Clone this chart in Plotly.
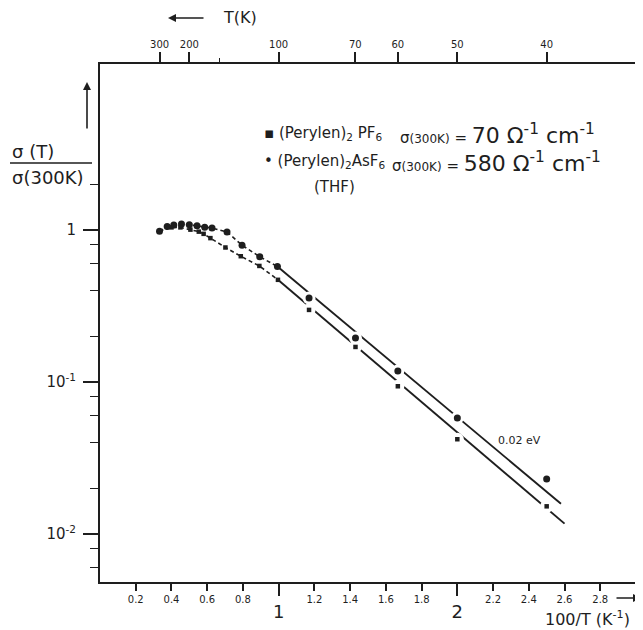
import plotly.graph_objects as go

# ---- data: x = 100/T (K^-1), y = sigma(T)/sigma(300K) ----
asf6_x = [0.333, 0.376, 0.413, 0.456, 0.500, 0.543, 0.586, 0.627, 0.711, 0.795, 0.894, 0.993, 1.17, 1.43, 1.667, 2.0, 2.5]
asf6_y = [0.98, 1.053, 1.08, 1.093, 1.082, 1.067, 1.043, 1.03, 0.97, 0.794, 0.667, 0.575, 0.357, 0.195, 0.118, 0.058, 0.023]
pf6_x = [0.333, 0.40, 0.45, 0.506, 0.553, 0.58, 0.618, 0.702, 0.788, 0.892, 0.996, 1.17, 1.43, 1.667, 2.0, 2.5]
pf6_y = [0.98, 1.04, 1.04, 1.005, 0.975, 0.943, 0.884, 0.767, 0.672, 0.58, 0.47, 0.298, 0.17, 0.0937, 0.042, 0.0152]

# straight activated (0.02 eV) lines
asf6_fit_x = [0.993, 2.58]
asf6_fit_y = [0.575, 0.0158]
pf6_fit_x = [0.996, 2.60]
pf6_fit_y = [0.47, 0.0117]

# axis ticks
bottom_minor = [0.2, 0.4, 0.6, 0.8, 1.2, 1.4, 1.6, 1.8, 2.2, 2.4, 2.6, 2.8]
bottom_major = [1, 2]
top_T = [300, 200, 100, 70, 60, 50, 40]
top_T_minor = [150]
y_major = [0.01, 0.1, 1]
y_major_text = ["10<sup>-2</sup>", "10<sup>-1</sup>", "1"]
y_minor = [0.006, 0.008, 0.02, 0.04, 0.06, 0.08, 0.2, 0.4, 0.6, 0.8, 2]

INK = "#1e1e1e"
FONT = "DejaVu Sans"
# the page body has an 8px margin; the figure is sized to fit the 643x630 window
OFF = 8
W, H = 643 - OFF, 630 - OFF
# plot area in window pixels: x 100..636, y 64..582
L, R, T, B = 100 - OFF, 7, 64 - OFF, 48
PW, PH = W - L - R, H - T - B
XR = [0, 3]


def px(x):  # window pixel -> paper
    return (x - 100) / PW


def py(y):
    return (582 - y) / PH


fig = go.Figure()

# curved (short-dashed) part following the points
for xs, ys, ax in ((asf6_x, asf6_y, "x2"), (pf6_x, pf6_y, "x")):
    cx = [a for a in xs if a < 1.0]
    cy = [b for a, b in zip(xs, ys) if a < 1.0]
    fig.add_trace(go.Scatter(x=cx, y=cy, mode="lines", xaxis=ax,
                             line=dict(color=INK, width=1.6, dash="4px,3px"),
                             hoverinfo="skip", showlegend=False))

# straight fit lines
for fx, fy in ((asf6_fit_x, asf6_fit_y), (pf6_fit_x, pf6_fit_y)):
    fig.add_trace(go.Scatter(x=fx, y=fy, mode="lines", xaxis="x3",
                             line=dict(color=INK, width=1.9),
                             hoverinfo="skip", showlegend=False))

# white gaps in the lines around the points of the linear region
for xs, ys in ((asf6_x, asf6_y), (pf6_x, pf6_y)):
    gx = [a for a in xs if a > 1.05]
    gy = [b for a, b in zip(xs, ys) if a > 1.05]
    fig.add_trace(go.Scatter(x=gx, y=gy, mode="markers", xaxis="x3",
                             marker=dict(color="white", size=13, line=dict(width=0)),
                             hoverinfo="skip", showlegend=False))

# data points
fig.add_trace(go.Scatter(x=asf6_x, y=asf6_y, mode="markers", xaxis="x3",
                         marker=dict(color=INK, size=7, symbol="circle"),
                         name="(Perylen)2 AsF6", showlegend=False))
fig.add_trace(go.Scatter(x=pf6_x, y=pf6_y, mode="markers", xaxis="x3",
                         marker=dict(color=INK, size=4.5, symbol="square"),
                         name="(Perylen)2 PF6", showlegend=False))

common = dict(showgrid=False, zeroline=False, automargin=False, tickcolor=INK)
fig.update_layout(
    template="none",
    width=W, height=H,
    margin=dict(l=L, r=R, t=T, b=B, autoexpand=False),
    paper_bgcolor="white", plot_bgcolor="white",
    font=dict(family=FONT, color=INK),
    showlegend=False,
    xaxis=dict(range=XR, showline=True, linewidth=2, linecolor=INK,
               tickmode="array", tickvals=bottom_minor,
               ticktext=[f"{v:g}" for v in bottom_minor],
               ticks="outside", ticklen=7, tickwidth=1.5,
               tickfont=dict(size=10, family=FONT, color=INK), **common),
    xaxis3=dict(range=XR, overlaying="x", anchor="y", side="bottom",
                showline=False,
                tickmode="array", tickvals=bottom_major,
                ticktext=[str(v) for v in bottom_major],
                ticks="outside", ticklen=13, tickwidth=1.5,
                tickfont=dict(size=18, family=FONT, color=INK), **common),
    xaxis2=dict(range=XR, overlaying="x", anchor="y", side="top",
                showline=True, linewidth=2, linecolor=INK,
                tickmode="array", tickvals=[100 / t for t in top_T],
                ticktext=[str(t) for t in top_T],
                ticks="outside", ticklen=10, tickwidth=1.5,
                tickfont=dict(size=10, family=FONT, color=INK),
                minor=dict(tickvals=[100 / t for t in top_T_minor], ticks="outside",
                           ticklen=4, tickwidth=1.2, tickcolor=INK), **common),
    yaxis=dict(type="log", range=[-2.316, 1.092],
               showline=True, linewidth=2, linecolor=INK, mirror=True,
               tickmode="array", tickvals=y_major, ticktext=y_major_text,
               ticks="outside", ticklen=15, tickwidth=1.5,
               ticklabelstandoff=4,
               tickfont=dict(size=15, family=FONT, color=INK),
               minor=dict(tickvals=y_minor, ticks="outside", ticklen=8,
                          tickwidth=1.3, tickcolor=INK), **common),
)

ann = []


def text(x, y, s, size=14, xanchor="center"):
    ann.append(dict(xref="paper", yref="paper", x=px(x), y=py(y), text=s,
                    showarrow=False, xanchor=xanchor, yanchor="middle",
                    font=dict(size=size, family=FONT, color=INK)))


def arrow(x_head, y_head, ax, ay):
    ann.append(dict(xref="paper", yref="paper", x=px(x_head), y=py(y_head), text="",
                    showarrow=True, ax=ax, ay=ay, arrowhead=2, arrowsize=1,
                    arrowwidth=1.6, arrowcolor=INK))


# y-axis label
text(10, 151, "σ (T)", 18, "left")
text(10, 177, "σ(300K)", 18, "left")
arrow(87, 82, 0, 48)
# top axis label
arrow(168, 18, 37, 0)
text(240, 18, "T(K)", 16)
# bottom axis label
arrow(641, 598, -26, 0)
text(587, 618, "100/T (K<sup>-1</sup>)", 16)
# legend
sig = "σ<span style='font-size:12px'>(300K)</span>"
text(262, 134, "▪ (Perylen)<sub>2</sub> PF<sub>6</sub>", 15, "left")
text(398, 134, sig + " = <span style='font-size:22px'>70 Ω<sup>-1</sup> cm<sup>-1</sup></span>", 15, "left")
text(262, 162, "• (Perylen)<sub>2</sub>AsF<sub>6</sub>", 15, "left")
text(390, 162, sig + " = <span style='font-size:22px'>580 Ω<sup>-1</sup> cm<sup>-1</sup></span>", 15, "left")
text(334, 187, "(THF)", 15)
# activation energy
text(519, 440, "0.02 eV", 11)

fig.update_layout(annotations=ann)
fig.add_shape(type="line", xref="paper", yref="paper",
              x0=px(10), x1=px(92), y0=py(163), y1=py(163),
              line=dict(color=INK, width=1.5))

fig.write_html("out.html")
